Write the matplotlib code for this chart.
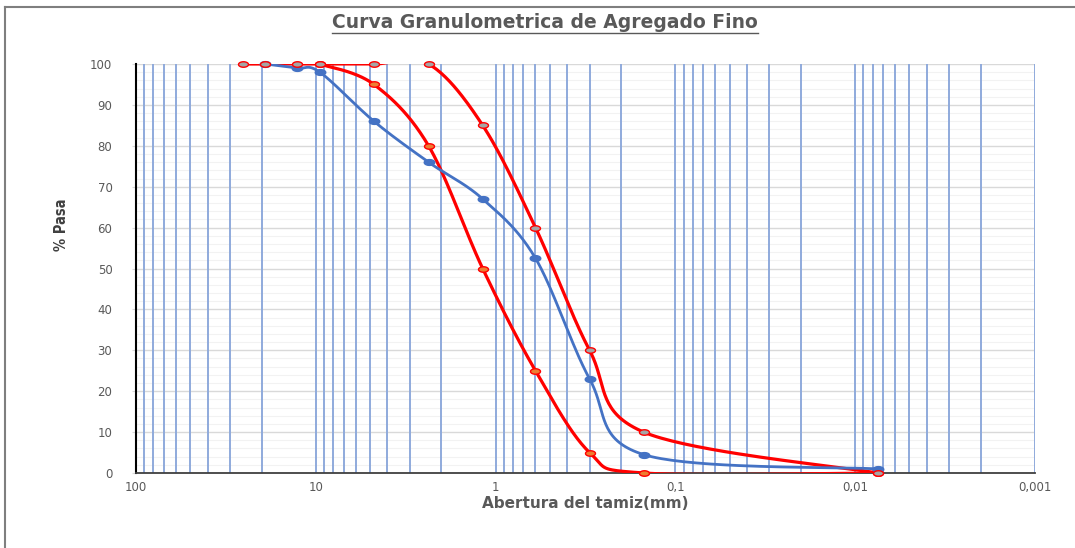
import numpy as np
import matplotlib
matplotlib.use('Agg')
import matplotlib.pyplot as plt
from matplotlib.path import Path
from matplotlib.lines import Line2D
from matplotlib.ticker import LogLocator, FixedLocator, FuncFormatter, NullFormatter, MultipleLocator

# ---------------- data ----------------
sieve_blue = [19.05, 12.7, 9.5, 4.75, 2.36, 1.18, 0.6, 0.3, 0.15, 0.0075]
pasa_blue = [100, 99, 98, 86, 76, 67, 52.5, 23, 4.5, 1]

sieve_low = [9.5, 4.75, 2.36, 1.18, 0.6, 0.3, 0.15, 0.0075]
pasa_low = [100, 95, 80, 50, 25, 5, 0, 0]

sieve_up = [25.4, 19.05, 12.7, 9.5, 4.75, 2.36, 1.18, 0.6, 0.3, 0.15, 0.0075]
pasa_up = [100, 100, 100, 100, 100, 100, 85, 60, 30, 10, 0]

x_ticks = [100, 10, 1, 0.1, 0.01, 0.001]
y_ticks = list(range(0, 101, 10))

title = "Curva Granulometrica de Agregado Fino"
xlabel = "Abertura del tamiz(mm)"
ylabel = "% Pasa"


def excel_smooth(xs, ys, n=40):
    """Excel-style smoothed line (Bezier through points) in log-x space."""
    P = np.column_stack([np.log10(np.asarray(xs, float)), np.asarray(ys, float)])
    out = [P[0]]
    t = np.linspace(0, 1, n)[1:, None]
    for i in range(len(P) - 1):
        p0 = P[i - 1] if i > 0 else P[i]
        p1, p2 = P[i], P[i + 1]
        p3 = P[i + 2] if i + 2 < len(P) else P[i + 1]
        c1 = p1 + (p2 - p0) / 6.0
        c2 = p2 - (p3 - p1) / 6.0
        seg = (1 - t) ** 3 * p1 + 3 * (1 - t) ** 2 * t * c1 + 3 * (1 - t) * t ** 2 * c2 + t ** 3 * p2
        out.extend(seg)
    out = np.array(out)
    return 10 ** out[:, 0], out[:, 1]


# flattened ellipse marker
th = np.linspace(0, 2 * np.pi, 40)
ell = Path(np.column_stack([np.cos(th), 0.55 * np.sin(th)]), closed=True)

W, H = 1075, 548
fig = plt.figure(figsize=(W / 100, H / 100), dpi=100)
ax = fig.add_axes([136 / W, 1 - 473 / H, (1035 - 136) / W, (473 - 64) / H])

ax.set_xscale('log')
ax.set_xlim(100, 0.001)
ax.set_ylim(0, 100)

# grid
ax.set_axisbelow(True)
ax.xaxis.set_major_locator(FixedLocator(x_ticks))
ax.xaxis.set_minor_locator(LogLocator(base=10, subs=np.arange(2, 10), numticks=50))
ax.xaxis.set_major_formatter(FuncFormatter(lambda v, p: f"{v:g}".replace('.', ',')))
ax.xaxis.set_minor_formatter(NullFormatter())
ax.yaxis.set_major_locator(FixedLocator(y_ticks))
ax.yaxis.set_minor_locator(MultipleLocator(2))

ax.grid(which='major', axis='y', color='#D9D9D9', lw=1.0)
ax.grid(which='minor', axis='y', color='#F2F2F2', lw=0.8)
ax.grid(which='both', axis='x', color='#8FAADC', lw=1.4)
ax.yaxis.set_zorder(0.5)
ax.xaxis.set_zorder(0.7)

ax.tick_params(axis='x', which='both', length=0, pad=6, labelsize=8.5, labelcolor='#595959')
ax.tick_params(axis='y', which='major', length=3, color='#D9D9D9', pad=14, labelsize=8.5, labelcolor='#595959')
ax.tick_params(axis='y', which='minor', length=0)

for s in ['top', 'right']:
    ax.spines[s].set_visible(False)
ax.spines['left'].set_color('black')
ax.spines['left'].set_linewidth(1.5)
ax.spines['bottom'].set_color('#404040')
ax.spines['bottom'].set_linewidth(1.3)

red = '#FF0000'
blue = '#4472C4'

# lower limit
xs, ys = excel_smooth(sieve_low, pasa_low)
ax.plot(xs, ys, color=red, lw=2.3, zorder=3, solid_capstyle='round')
ax.plot(sieve_low, pasa_low, ls='none', marker=ell, ms=7.2, mfc='#ED7D31', mec=red, mew=1.0,
        zorder=5, clip_on=False)

# blue curve
xs, ys = excel_smooth(sieve_blue, pasa_blue)
ax.plot(xs, ys, color=blue, lw=2.0, zorder=4, solid_capstyle='round')
ax.plot(sieve_blue, pasa_blue, ls='none', marker=ell, ms=7.6, mfc=blue, mec=blue, mew=1.0,
        zorder=6, clip_on=False)

# upper limit
xs, ys = excel_smooth(sieve_up, pasa_up)
ax.plot(xs, ys, color=red, lw=2.3, zorder=3, solid_capstyle='round')
ax.plot(sieve_up, pasa_up, ls='none', marker=ell, ms=7.2, mfc='#A5A5A5', mec=red, mew=1.0,
        zorder=7, clip_on=False)

# labels
fig.text(585 / W, 1 - 503 / H, xlabel, ha='center', va='center', fontsize=11,
         fontweight='bold', color='#595959')
fig.text(62 / W, 1 - 225 / H, ylabel, ha='center', va='center', rotation=90, fontsize=10.5,
         fontweight='bold', color='#404040', family='DejaVu Sans', fontstretch='condensed')
t = fig.text(545 / W, 1 - 22 / H, title, ha='center', va='center', fontsize=13.5,
             fontweight='bold', color='#595959')

# outer frame
fig.add_artist(Line2D([5 / W, 5 / W], [0, 1 - 7 / H], color='#7F7F7F', lw=1.5, transform=fig.transFigure))
fig.add_artist(Line2D([5 / W, 1], [1 - 7 / H, 1 - 7 / H], color='#7F7F7F', lw=1.5, transform=fig.transFigure))

# underline title
fig.canvas.draw()
bb = t.get_window_extent(renderer=fig.canvas.get_renderer())
uy = (bb.y0 - 1.5) / H
fig.add_artist(Line2D([bb.x0 / W, bb.x1 / W], [uy, uy], color='#595959', lw=1.0, transform=fig.transFigure))

fig.savefig('out.png', dpi=100)
